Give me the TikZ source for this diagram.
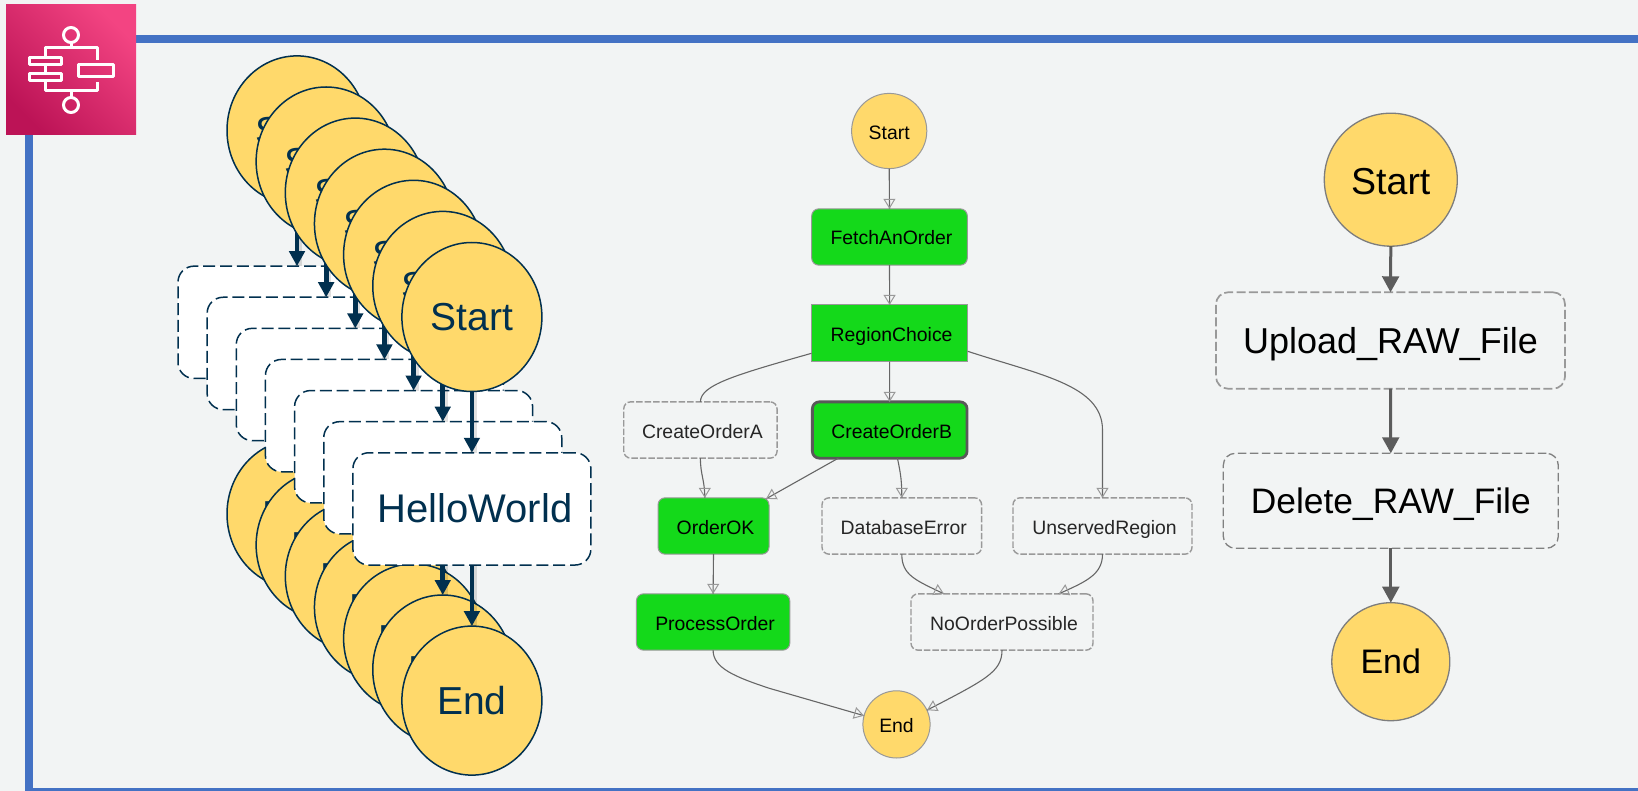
\documentclass[tikz,border=0pt]{standalone}
\usepackage{fontspec}
\setmainfont{Liberation Sans}
\usetikzlibrary{arrows.meta,calc,shapes.geometric,decorations.markings}
\definecolor{bgc}{HTML}{F2F4F4}
\definecolor{framec}{HTML}{4472C4}
\definecolor{navy}{HTML}{01304F}
\definecolor{gold}{HTML}{FFD96B}
\definecolor{lime}{HTML}{14D91A}
\definecolor{pinklo}{HTML}{BC1356}
\definecolor{pinkhi}{HTML}{F34482}
\definecolor{edgec}{HTML}{666666}
\definecolor{headc}{HTML}{999999}
\definecolor{boxline}{HTML}{999999}
\newcommand{\sh}[1]{\hspace*{4pt}#1}
\tikzset{
  x=1pt,y=-1pt,
  base/.style={inner sep=0pt,outer sep=0pt,text depth=0pt},
  bigcirc/.style={base,ellipse,draw=navy,fill=gold,line width=1.5pt,text=navy,
    minimum width=140pt,minimum height=149pt,text height=28pt,
    font=\fontsize{39}{39}\selectfont},
  bigbox/.style={base,rectangle,rounded corners=16pt,draw=navy,fill=white,line width=1.5pt,
    dash pattern=on 12pt off 4.8pt,text=navy,minimum width=238pt,minimum height=112.3pt,
    text height=28pt,font=\fontsize{40}{40}\selectfont},
  fat/.style={navy,line width=4.7pt,-{Triangle[width=15.3pt,length=15pt]},
    preaction={draw=black,opacity=.12,line width=7pt,arrows=-,transform canvas={xshift=1.5pt}}},
  midbox/.style={base,rectangle,rounded corners=7pt,text=black,text height=16pt,
    minimum height=56.3pt,font=\fontsize{19.4}{20}\selectfont},
  greenbox/.style={midbox,fill=lime,draw=boxline,line width=1pt},
  dashbox/.style={midbox,draw=boxline,line width=1.4pt,dash pattern=on 6.5pt off 2pt,text=black!85},
  midcirc/.style={base,circle,fill=gold,draw=boxline,line width=1pt,text=black,text height=17pt,
    font=\fontsize{19.4}{20}\selectfont},
  flow/.style={draw=edgec,line width=1.1pt,postaction={decorate,decoration={markings,
    mark=at position 1 with {\arrow[headc,line width=1pt]{Triangle[open,width=12pt,length=10pt]}}}}},
  rcirc/.style={base,circle,fill=gold,draw=edgec!85,line width=1.3pt,text=black},
  rbox/.style={base,rectangle,rounded corners=12pt,text=black,text height=26pt},
  rflow/.style={draw=edgec!90!black,line width=3pt,-{Triangle[width=16.7pt,length=16pt]}},
  glyph/.style={draw=white,line width=3pt,line join=round}
}
\begin{document}
\begin{tikzpicture}
\useasboundingbox (0,0) rectangle (1638,791);
\fill[bgc] (0,0) rectangle (1638,791);
% frame
\fill[framec] (136,35.3) rectangle (1638,43.3);
\fill[framec] (25,135) rectangle (33.3,791);
\fill[framec] (25,787.7) rectangle (1638,791);
% icon
\fill[left color=pinkhi,right color=pinklo,shading angle=-45] (6,5) rectangle (136,135);
\draw[glyph] (71,35) circle (7.5);
\draw[glyph] (71,105) circle (7.5);
\draw[glyph] (71,42.5) -- (71,48);
\draw[glyph] (71,91) -- (71,97.5);
\draw[glyph] (45,58) -- (45,48) -- (97,48) -- (97,60);
\draw[glyph] (45,81) -- (45,91) -- (97,91) -- (97,82);
\draw[glyph] (45,65) -- (45,74);
\draw[glyph] (29.5,58) rectangle (61,65);
\draw[glyph] (29.5,74) rectangle (61,81);
\draw[glyph] (78,65) rectangle (113,77);
% stacked layers
\foreach \i in {0,...,6}{
  \pgfmathsetmacro\dx{\i*29.15}
  \pgfmathsetmacro\dy{\i*31.1}
  \node[bigcirc] (s\i) at (297+\dx,130.4+\dy) {Start};
  \node[bigcirc] (e\i) at (297+\dx,514+\dy) {End};
  \node[bigbox] (b\i) at (297+\dx,322.3+\dy) {\ifnum\i=6 \hspace*{6pt}HelloWorld\fi};
  \draw[fat] (s\i.south) -- (b\i.north);
  \draw[fat] (b\i.south) -- (e\i.north);
}
% middle graph
\node[midcirc,minimum size=75.2pt] (ms) at (889.2,131) {Start};
\node[greenbox,minimum width=155.6pt] (fetch) at (889.5,237) {\sh{FetchAnOrder}};
\node[greenbox,minimum width=156.2pt,minimum height=56.7pt,rounded corners=0pt] (rc) at (889.6,333.3) {\sh{RegionChoice}};
\node[dashbox,minimum width=153.3pt] (coa) at (700.4,430) {\sh{CreateOrderA}};
\node[greenbox,minimum width=154.7pt,draw=black!65,line width=2.8pt] (cob) at (889.7,430) {\sh{CreateOrderB}};
\node[greenbox,minimum width=111pt] (ok) at (713.5,526) {\sh{OrderOK}};
\node[dashbox,minimum width=159.6pt] (db) at (901.8,526) {\sh{DatabaseError}};
\node[dashbox,minimum width=179pt] (ur) at (1102.5,526) {\sh{UnservedRegion}};
\node[greenbox,minimum width=153.4pt] (po) at (713.1,622) {\sh{ProcessOrder}};
\node[dashbox,minimum width=182pt] (nop) at (1002,622) {\sh{NoOrderPossible}};
\node[midcirc,minimum size=67.2pt] (me) at (896.5,724.4) {End};
\draw[flow] (ms.south) -- (fetch.north);
\draw[flow] (fetch.south) -- (rc.north);
\draw[flow] (rc.south) -- (cob.north);
\draw[flow] ($(rc.west)+(0,20)$) .. controls (735,375) and (700.5,385) .. (coa.north);
\draw[flow] ($(rc.east)+(0,18)$) .. controls (1040,375) and (1102.5,385) .. (1102.5,430) -- (ur.north);
\draw[flow] (coa.south) .. controls (700.4,475) and (704.8,480) .. ($(ok.north)+(-8.7,0)$);
\draw[flow] ($(cob.south west)+(26,0)$) -- ($(ok.north east)+(-3,1)$);
\draw[flow] ($(cob.south)+(7.7,0)$) .. controls (901,475) and (901.8,482) .. (db.north);
\draw[flow] (ok.south) -- (po.north);
\draw[flow] (db.south) .. controls (901.8,575) and (915,580) .. ($(nop.north)+(-58,0)$);
\draw[flow] (ur.south) .. controls (1102.5,575) and (1085,582) .. ($(nop.north)+(56.7,0)$);
\draw[flow] (po.south) .. controls (713,668) and (735,677) .. (770,688.5) -- (me.165);
\draw[flow] (nop.south) .. controls (1002,672) and (985,680) .. (me.25);
% right graph
\node[rcirc,minimum size=133pt,text height=30pt,font=\fontsize{37.5}{38}\selectfont] (rs) at (1390.8,179.7) {Start};
\node[rbox,draw=boxline,line width=1.7pt,dash pattern=on 9pt off 3.3pt,minimum width=349pt,minimum height=96.4pt,font=\fontsize{36}{36}\selectfont] (up) at (1390.5,340.5) {Upload\_RAW\_File};
\node[rbox,draw=black!50,line width=1.3pt,dash pattern=on 8.5pt off 3.5pt,minimum width=335pt,minimum height=95pt,font=\fontsize{35.4}{36}\selectfont] (del) at (1390.8,500.8) {Delete\_RAW\_File};
\node[rcirc,minimum size=118pt,text height=24pt,font=\fontsize{34}{34}\selectfont] (re) at (1390.8,661.7) {End};
\draw[rflow] (rs.south) -- (up.north);
\draw[rflow] (up.south) -- (del.north);
\draw[rflow] (del.south) -- (re.north);
\end{tikzpicture}
\end{document}
